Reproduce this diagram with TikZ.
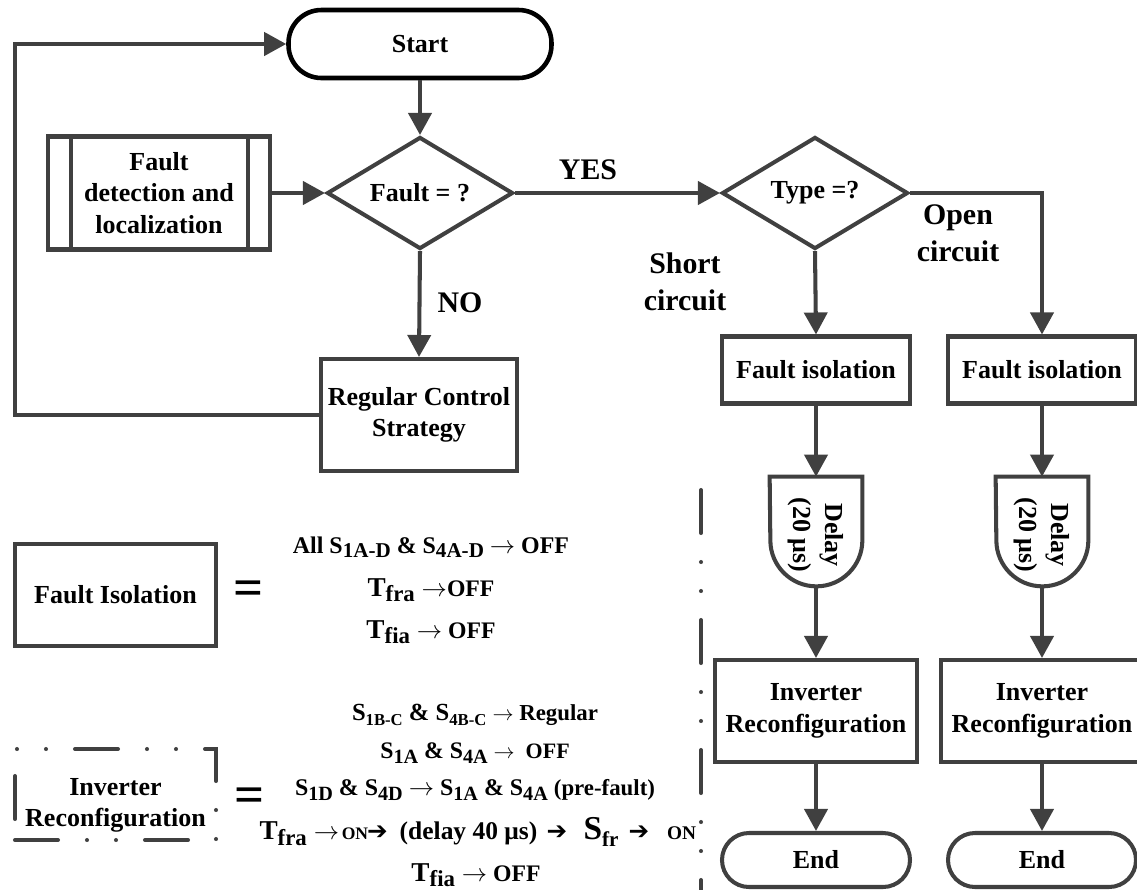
\documentclass[tikz,border=0pt]{standalone}
\usepackage{fontspec}
\usepackage{graphicx}
\setmainfont{Liberation Serif}
\newfontfamily\arrowfont{DejaVu Sans}
\usetikzlibrary{arrows}
\usetikzlibrary{arrows.meta}
\usetikzlibrary{shapes.geometric}
\definecolor{flowgray}{HTML}{404040}
\newlength{\pxu}
\setlength{\pxu}{0.2mm}
\newcommand{\fsz}[1]{\fontsize{#1}{#1}\selectfont}
\newcommand{\lowtxt}[2]{\raisebox{-0.4ex}{\fsz{#1}#2}}
\newcommand{\ra}{\ensuremath{\rightarrow}}
\newcommand{\bigarr}{{\arrowfont\bfseries\fsz{14}➔}}

\begin{document}
\begin{tikzpicture}[x=0.2mm, y=-0.2mm,
    every node/.style={font=\bfseries\fontsize{14.8}{18}\selectfont, text=black},
    procbox/.style={draw=flowgray, line width=2.3pt, rectangle, align=center, inner sep=0pt},
    termbox/.style={procbox, rounded corners=0.54cm},
    decbox/.style={draw=flowgray, line width=2.3pt, diamond, aspect=2, inner sep=0pt, minimum width=3.72cm, minimum height=2.24cm},
    flowline/.style={draw=flowgray, line width=2.3pt},
    flowarrow/.style={flowline, arrows=-{Triangle[length=0.44cm, width=0.46cm]}},
    lbl/.style={font=\bfseries\fontsize{17}{21}\selectfont, align=center},
    dashdotdot/.style={draw=flowgray, line width=2.3pt, line cap=round, dash pattern=on 0.86cm off 0.58cm on 0cm off 0.58cm on 0cm off 0.58cm},
    eqsign/.style={font=\bfseries\fontsize{30}{30}\selectfont, inner sep=0pt}]
          \useasboundingbox (0,0) rectangle (1137,890);

          % main flow
          \node [termbox, draw=black, line width=2.6pt, rounded corners=0.66cm, minimum width=5.26cm, minimum height=1.36cm] (start) at (420,44) {Start};
          \node [procbox, minimum width=4.44cm, minimum height=2.26cm] (fdl) at (159,193) {Fault\\detection and\\localization};
          \node [decbox] (fault) at (420,193) {Fault = ?};
          \node [decbox] (type) at (815,193) {Type =?};
          \node [procbox, minimum width=3.92cm, minimum height=2.24cm] (reg) at (419,415) {Regular Control\\Strategy};
          \coordinate (loopL) at (15,44);

          \draw [flowline] ([xshift=0.5cm]fdl.north west) -- ([xshift=0.5cm]fdl.south west); % side bars
          \draw [flowline] ([xshift=-0.48cm]fdl.north east) -- ([xshift=-0.48cm]fdl.south east);

          \node [procbox, minimum width=3.76cm, minimum height=1.34cm] (fiso1) at (816,370) {Fault isolation};
          \node [procbox, minimum width=3.76cm, minimum height=1.34cm] (fiso2) at (1042,370) {Fault isolation};

          \node [inner sep=0pt, minimum width=1.84cm, minimum height=2.18cm] (dly1) at (816,531.5) {};
          \node [inner sep=0pt, minimum width=1.84cm, minimum height=2.18cm] (dly2) at (1042,531.5) {};
          \draw [flowline] (dly1.north west) -- (dly1.north east) -- ([yshift=0.92cm]dly1.south east) arc [start angle=0, end angle=-180, radius=0.92cm] -- cycle; % delay shape
          \draw [flowline] (dly2.north west) -- (dly2.north east) -- ([yshift=0.92cm]dly2.south east) arc [start angle=0, end angle=-180, radius=0.92cm] -- cycle;
          \node [rotate=-90, align=center] (dlytxt1) at (816,535) {Delay\\(20 μs)};
          \node [rotate=-90, align=center] (dlytxt2) at (1042,535) {Delay\\(20 μs)};

          \node [procbox, minimum width=4.04cm, minimum height=2.04cm] (inv1) at (816,711) {Inverter\\Reconfiguration};
          \node [procbox, minimum width=4.04cm, minimum height=2.04cm] (inv2) at (1042,711) {Inverter\\Reconfiguration};
          \node [termbox, minimum width=3.76cm, minimum height=1.08cm] (end1) at (816,860) {End};
          \node [termbox, minimum width=3.76cm, minimum height=1.08cm] (end2) at (1042,860) {End};

          \node [lbl] (yes) at (588,170) {YES};
          \node [lbl] (no) at (460,303) {NO};
          \node [lbl] (short) at (685,282) {Short\\circuit};
          \node [lbl] (open) at (958,233) {Open\\circuit};

          \draw [flowarrow] (start.south) -- (fault.north);
          \draw [flowarrow] (fdl.east) -- (fault.west);
          \draw [flowarrow] (fault.east) -- (type.west);
          \draw [flowarrow] (fault.south) -- (reg.north);
          \draw [flowarrow] (reg.west) -| (loopL) -- (start.west);
          \draw [flowarrow] (type.south) -- (fiso1.north);
          \draw [flowarrow] (type.east) -| (fiso2.north);
          \draw [flowarrow] (fiso1.south) -- (dly1.north);
          \draw [flowarrow] (fiso2.south) -- (dly2.north);
          \draw [flowarrow] (dly1.south) -- (inv1.north);
          \draw [flowarrow] (dly2.south) -- (inv2.north);
          \draw [flowarrow] (inv1.south) -- (end1.north);
          \draw [flowarrow] (inv2.south) -- (end2.north);

          % legend
          \coordinate (sepTop) at (701,490);
          \coordinate (sepBot) at (701,895);
          \draw [dashdotdot] (sepTop) -- (sepBot);

          \node [procbox, minimum width=4.02cm, minimum height=2.04cm] (legfi) at (115.5,595) {Fault Isolation};
          \node [procbox, dashdotdot, minimum width=4.02cm, minimum height=1.82cm] (legir) at (115.5,794.5) {\raisebox{-0.2cm}[\height][\depth]{\begin{tabular}{@{}c@{}}Inverter\\Reconfiguration\end{tabular}}};
          \node [eqsign] (eq1) at (249,593) {=};
          \node [eqsign] (eq2) at (250,800) {=};

          \node (fi1) at (431,547) {\fsz{13.6}All S\lowtxt{12}{1A-D} \& S\lowtxt{12}{4A-D} \ra{} OFF};
          \node (fi2) at (431,590) {\fsz{15.5}T\lowtxt{13}{fra} \fsz{13.5}\ra OFF};
          \node (fi3) at (431,632) {\fsz{15.5}T\lowtxt{13}{fia} \fsz{13.5}\ra{} OFF};

          \node (ir1) at (475,715) {\fsz{14}S\lowtxt{9.5}{1B-C} \& S\lowtxt{9.5}{4B-C} \fsz{13}\ra{} Regular};
          \node (ir2) at (475,753) {\fsz{13.5}S\lowtxt{11.5}{1A} \& S\lowtxt{11.5}{4A} \fsz{12.5}\ra\ \ OFF};
          \node (ir3) at (475,790) {\fsz{13.6}S\lowtxt{11.5}{1D} \& S\lowtxt{11.5}{4D} \ra{} S\lowtxt{11.5}{1A} \& S\lowtxt{11.5}{4A} \fsz{13}(pre-fault)};
          \node (ir4) at (476.5,832) {\makebox[47\pxu][l]{\fsz{15.5}T\lowtxt{13}{fra}}\hspace{6\pxu}%
            \makebox[28\pxu]{\fsz{15}\ra}\hspace{1\pxu}\makebox[27\pxu]{\fsz{10}ON}\hspace{1\pxu}\makebox[16\pxu]{\bigarr}\hspace{8\pxu}%
            \makebox[150\pxu]{\fsz{14.5}(delay 40 μs)}\hspace{5\pxu}\makebox[17\pxu]{\bigarr}\hspace{18\pxu}%
            \makebox[40\pxu][l]{\fsz{19}S\lowtxt{12}{fr}}\hspace{7\pxu}\makebox[17\pxu]{\bigarr}\hspace{22\pxu}\makebox[24\pxu]{\fsz{11}ON}};
          \node (ir5) at (476,875) {\fsz{15.5}T\lowtxt{13}{fia} \fsz{13.5}\ra{} OFF};
        \end{tikzpicture}
\end{document}
